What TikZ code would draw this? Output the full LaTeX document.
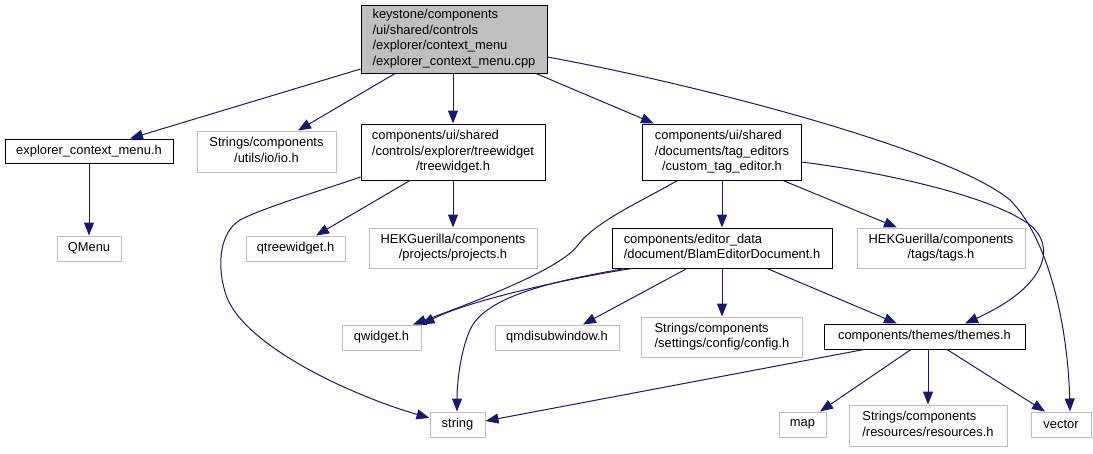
\documentclass[tikz,border=0pt]{standalone}
\usepackage{fontspec}
\setmainfont{Liberation Sans}
\usetikzlibrary{arrows.meta}
\definecolor{edgec}{HTML}{191970}
\definecolor{graybd}{HTML}{BFBFBF}
\newcommand\fs{\fontsize{12.9}{15.5}\selectfont}
\newcommand\lns[1]{\begin{tabular}{@{}l@{}}#1\end{tabular}}
\newcommand\lc[1]{\multicolumn{1}{@{}c@{}}{#1}}
\tikzset{
  base/.style={rectangle, inner sep=0pt, font=\fs, text=black, line width=1pt},
  cur/.style={base, draw=black},
  gry/.style={base, draw=graybd},
  dep/.style={draw=edgec, line width=1pt, -{Triangle[length=13pt,width=10pt]}},
}
\begin{document}
\begin{tikzpicture}[x=1pt,y=-1pt]
\useasboundingbox (0,0) rectangle (1093,453);
% nodes
\node[cur, fill=graybd, minimum width=186pt, minimum height=68pt] (root) at (454,39)
  {\lns{keystone/components\\/ui/shared/controls\\/explorer/context\_menu\\/explorer\_context\_menu.cpp}};
\node[cur, minimum width=168pt, minimum height=24pt] (ecm) at (89,151) {explorer\_context\_menu.h};
\node[gry, minimum width=139pt, minimum height=41pt] (io) at (266.5,151.5)
  {\lns{Strings/components\\\lc{/utils/io/io.h}}};
\node[cur, minimum width=184pt, minimum height=56pt] (tw) at (453,152)
  {\lns{components/ui/shared\\/controls/explorer/treewidget\\\lc{/treewidget.h}}};
\node[cur, minimum width=159pt, minimum height=56pt] (cte) at (722,152)
  {\lns{components/ui/shared\\/documents/tag\_editors\\\lc{/custom\_tag\_editor.h}}};
\node[gry, minimum width=64pt, minimum height=25pt] (qmenu) at (89,248.5) {QMenu};
\node[gry, minimum width=99pt, minimum height=25pt] (qtw) at (295.5,248.5) {qtreewidget.h};
\node[gry, minimum width=168pt, minimum height=40pt] (proj) at (453,248)
  {\lns{HEKGuerilla/components\\\lc{/projects/projects.h}}};
\node[cur, minimum width=220pt, minimum height=40pt] (bed) at (722,248)
  {\lns{components/editor\_data\\\lc{/document/BlamEditorDocument.h}}};
\node[gry, minimum width=168pt, minimum height=40pt] (tags) at (941,248)
  {\lns{HEKGuerilla/components\\\lc{/tags/tags.h}}};
\node[gry, minimum width=79pt, minimum height=25pt] (qwidget) at (381.5,337.5) {qwidget.h};
\node[gry, minimum width=124pt, minimum height=25pt] (qmdi) at (557,337.5) {qmdisubwindow.h};
\node[gry, minimum width=161pt, minimum height=40pt] (config) at (722,337)
  {\lns{Strings/components\\\lc{/settings/config/config.h}}};
\node[cur, minimum width=201pt, minimum height=25pt] (themes) at (924.5,336.5) {components/themes/themes.h};
\node[gry, minimum width=55pt, minimum height=25pt] (string) at (457.5,424.5) {string};
\node[gry, minimum width=47pt, minimum height=25pt] (map) at (802.5,424.5) {map};
\node[gry, minimum width=158pt, minimum height=41pt] (res) at (928,425.5)
  {\lns{Strings/components\\\lc{/resources/resources.h}}};
\node[gry, minimum width=60pt, minimum height=25pt] (vector) at (1061,424.5) {vector};
% edges
\draw[dep] ([yshift=-30pt]root.west) -- ([xshift=41pt]ecm.north);
\draw[dep] ([xshift=-59pt]root.south) -- ([xshift=31.5pt]io.north);
\draw[dep] ([xshift=-1pt]root.south) -- (tw.north);
\draw[dep] ([xshift=82pt]root.south) -- ([xshift=-68pt]cte.north);
\draw[dep] ([yshift=-18pt]root.east) .. controls (700,85) and (950,150) .. (1010,200)
  .. controls (1050,240) and (1068,330) .. ([xshift=9pt]vector.north);
\draw[dep] (ecm.south) -- (qmenu.north);
\draw[dep] ([xshift=-43pt]tw.south) -- ([xshift=20.5pt]qtw.north);
\draw[dep] (tw.south) -- (proj.north);
\draw[dep] ([yshift=-25pt]tw.west) .. controls (320,191) and (265,207) .. (240,220)
  .. controls (220,232) and (216,265) .. (226,295)
  .. controls (243,345) and (350,395) .. ([yshift=6.5pt]string.west);
\draw[dep] ([xshift=-44.5pt]cte.south) .. controls (640,202) and (595,222) .. (578,245)
  .. controls (562,268) and (480,300) .. ([xshift=31.5pt]qwidget.north);
\draw[dep] (cte.south) -- (bed.north);
\draw[dep] ([xshift=61pt]cte.south) -- ([xshift=-44pt]tags.north);
\draw[dep] ([yshift=-10pt]cte.east) .. controls (880,172) and (990,195) .. (1030,225)
  .. controls (1055,245) and (1050,285) .. ([xshift=40.5pt]themes.north);
\draw[dep] ([xshift=-90pt]bed.south) .. controls (570,278) and (470,300) .. (qwidget.north east);
\draw[dep] ([xshift=-97pt]bed.south) .. controls (560,280) and (485,295) .. (470,330)
  .. controls (460,352) and (457,385) .. ([xshift=-0.5pt]string.north);
\draw[dep] ([xshift=-35pt]bed.south) -- ([xshift=26pt]qmdi.north);
\draw[dep] (bed.south) -- (config.north);
\draw[dep] ([xshift=45pt]bed.south) -- ([xshift=-27.5pt]themes.north);
\draw[dep] ([xshift=-60.5pt]themes.south) -- ([yshift=3.5pt]string.east);
\draw[dep] ([xshift=-13.5pt]themes.south) -- ([xshift=17.5pt]map.north);
\draw[dep] ([xshift=3.5pt]themes.south) -- (res.north);
\draw[dep] ([xshift=22.5pt]themes.south) -- ([xshift=-16pt]vector.north);
\end{tikzpicture}
\end{document}
